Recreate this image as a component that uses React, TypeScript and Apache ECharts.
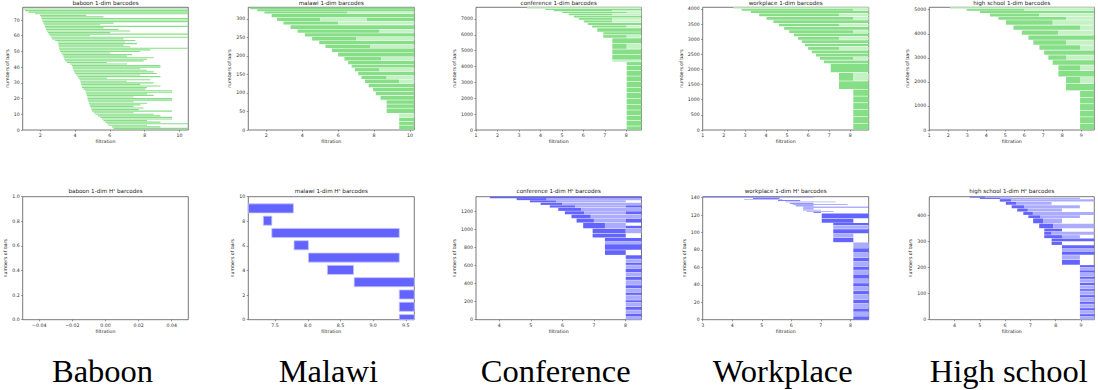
import React, { useEffect, useRef } from 'react';
import * as echarts from 'echarts';

// ---------------- data ----------------
// baboon 1-dim bars, index = bar number (bottom-up)
const baboonBirths = [6.41, 6.21, 6.12, 5.93, 5.83, 5.74, 5.64, 5.54, 5.45, 5.31, 5.16, 5.07, 4.99, 4.95, 4.91, 4.87, 4.84, 4.8, 4.78, 4.74, 4.72, 4.7, 4.68, 4.64, 4.62, 4.59, 4.49, 4.39, 4.38, 4.36, 4.34, 4.3, 4.26, 4.2, 4.15, 4.07, 4.01, 3.95, 3.92, 3.88, 3.86, 3.82, 3.72, 3.53, 3.44, 3.38, 3.36, 3.34, 3.28, 3.21, 3.15, 3.11, 3.09, 3.07, 3.05, 3.05, 3.0, 2.86, 2.69, 2.63, 2.57, 2.5, 2.44, 2.38, 2.34, 2.31, 2.27, 2.23, 2.19, 2.15, 2.11, 2.08, 2.04, 2.0, 1.71, 1.33, 1.14, 1.0];
const baboonDeaths = [7.94, 10.5, 8.9, 8.13, 10.5, 8.9, 8.13, 9.57, 9.57, 8.9, 8.51, 7.36, 9.57, 7.65, 7.94, 7.36, 7.75, 8.13, 7.36, 9.57, 9.57, 7.36, 8.51, 8.13, 9.57, 9.57, 8.03, 8.13, 8.9, 7.75, 8.51, 6.98, 8.32, 5.83, 8.9, 7.75, 8.7, 8.51, 8.13, 7.75, 8.9, 8.9, 6.98, 5.83, 7.94, 8.13, 8.51, 6.98, 7.27, 6.02, 7.75, 8.32, 10.5, 7.17, 6.79, 7.56, 6.89, 7.46, 6.79, 10.5, 4.87, 10.5, 6.02, 7.17, 6.5, 5.64, 10.5, 5.45, 6.21, 10.5, 10.5, 10.5, 5.64, 4.64, 10.5, 10.5, 10.5, 10.5];

// banded barcodes: [yFrom, yTo, birth, death, tone(1 dark / 0 light)]
const malawiBars = [
  [0, 13, 9.4, 10.24, 1], [13, 23, 9.4, 10.24, 1], [23, 34, 9.4, 10.24, 1], [34, 45, 9.4, 10.24, 0],
  [45, 59, 8.7, 10.24, 1], [59, 70, 8.7, 10.24, 1], [70, 81, 8.7, 10.24, 1], [81, 93, 8.36, 10.24, 1],
  [93, 104, 8.1, 10.24, 1], [104, 115, 7.95, 10.24, 1], [115, 126, 7.7, 10.24, 1],
  [126, 137, 7.5, 9.4, 1], [126, 137, 9.4, 10.24, 0],
  [137, 147, 7.3, 8.7, 1], [137, 147, 8.7, 10.24, 0],
  [147, 158, 7.12, 10.24, 1],
  [158, 168, 6.93, 8.3, 1], [158, 168, 8.3, 10.24, 0],
  [168, 177, 6.75, 10.24, 1], [177, 187, 6.56, 10.24, 1],
  [187, 198, 6.35, 8.4, 1], [187, 198, 8.4, 10.24, 0],
  [198, 210, 6.0, 10.24, 1], [210, 221, 5.65, 10.24, 1],
  [221, 231, 5.3, 7.8, 1], [221, 231, 7.8, 10.24, 0],
  [231, 241, 4.95, 10.24, 1],
  [241, 252, 4.55, 7.0, 1], [241, 252, 7.0, 10.24, 0],
  [252, 262, 4.15, 10.24, 1],
  [262, 272, 3.75, 8.3, 1], [262, 272, 8.3, 10.24, 0],
  [272, 284, 3.35, 10.24, 1],
  [284, 294, 2.95, 6.0, 1], [284, 294, 6.0, 10.24, 0],
  [294, 304, 2.6, 5.0, 1], [294, 304, 5.0, 7.6, 0], [294, 304, 7.6, 10.24, 1],
  [304, 314, 2.3, 10.24, 1],
  [314, 321, 1.9, 6.5, 1], [314, 321, 6.5, 10.24, 0],
  [321, 326, 1.5, 10.24, 1], [326, 331, 1.1, 10.24, 1],
];

const conferenceBars = [
  [0, 250, 8.02, 8.71, 1], [250, 590, 8.02, 8.71, 1], [590, 925, 8.02, 8.71, 1], [925, 1260, 8.02, 8.71, 1],
  [1260, 1620, 8.02, 8.71, 1], [1620, 1975, 8.02, 8.71, 1], [1975, 2355, 8.02, 8.71, 1], [2355, 2690, 8.02, 8.71, 1],
  [2690, 3050, 8.02, 8.71, 1], [3050, 3400, 8.02, 8.71, 1], [3400, 3740, 8.02, 8.71, 1], [3740, 4060, 8.02, 8.71, 1],
  [4060, 4300, 8.02, 8.71, 1],
  [4300, 4420, 7.35, 8.71, 0], [4420, 4760, 7.35, 8.71, 1], [4760, 5100, 7.35, 8.71, 1],
  [5100, 5450, 7.35, 8.02, 1], [5100, 5450, 8.02, 8.71, 0],
  [5450, 5800, 7.35, 8.71, 1],
  [5800, 6000, 6.93, 8.02, 1], [5800, 6000, 8.02, 8.71, 0],
  [6000, 6180, 6.93, 8.71, 1], [6180, 6440, 6.65, 8.71, 1],
  [6440, 6600, 6.41, 8.02, 1], [6440, 6600, 8.02, 8.71, 0],
  [6600, 6760, 6.21, 8.71, 1],
  [6760, 6930, 6.02, 7.35, 1], [6760, 6930, 7.35, 8.71, 0],
  [6930, 7080, 5.79, 7.35, 1], [6930, 7080, 7.35, 8.71, 0],
  [7080, 7230, 5.56, 8.71, 1],
  [7230, 7350, 5.32, 7.35, 1], [7230, 7350, 7.35, 8.71, 0],
  [7350, 7480, 5.01, 8.02, 1], [7350, 7480, 8.02, 8.71, 0],
  [7480, 7570, 4.62, 7.35, 1], [7480, 7570, 7.35, 8.71, 0],
  [7570, 7650, 4.23, 8.71, 1], [7650, 7736, 3.37, 8.71, 0],
];

const workplaceBars = [
  [0, 220, 8.14, 8.87, 1], [220, 450, 8.14, 8.87, 1], [450, 680, 8.14, 8.87, 1], [680, 900, 8.14, 8.87, 1],
  [900, 1120, 8.14, 8.87, 1], [1120, 1345, 8.14, 8.87, 1],
  [1345, 1620, 7.46, 8.87, 1],
  [1620, 1895, 7.46, 8.14, 1], [1620, 1895, 8.14, 8.87, 0],
  [1895, 2200, 7.07, 8.87, 1], [2200, 2310, 6.75, 8.87, 1],
  [2310, 2420, 6.56, 8.14, 1], [2310, 2420, 8.14, 8.87, 0],
  [2420, 2530, 6.37, 8.87, 1], [2530, 2640, 6.17, 8.87, 1],
  [2640, 2755, 6.0, 7.46, 1], [2640, 2755, 7.46, 8.87, 0],
  [2755, 2865, 5.85, 8.87, 1], [2865, 2975, 5.7, 8.87, 1],
  [2975, 3086, 5.52, 7.46, 1], [2975, 3086, 7.46, 8.87, 0],
  [3086, 3196, 5.32, 8.87, 1],
  [3196, 3306, 5.1, 8.14, 1], [3196, 3306, 8.14, 8.87, 0],
  [3306, 3416, 4.86, 8.87, 1],
  [3416, 3526, 4.62, 7.46, 1], [3416, 3526, 7.46, 8.87, 0],
  [3526, 3637, 4.35, 8.87, 1],
  [3637, 3747, 4.03, 8.14, 1], [3637, 3747, 8.14, 8.87, 0],
  [3747, 3857, 3.68, 7.46, 1], [3747, 3857, 7.46, 8.87, 0],
  [3857, 3945, 3.28, 8.87, 1],
  [3945, 4011, 2.85, 8.14, 1], [3945, 4011, 8.14, 8.87, 0],
  [4011, 4055, 2.45, 8.87, 0],
];

const highSchoolBars = [
  [0, 270, 8.94, 9.68, 1], [270, 545, 8.94, 9.68, 1], [545, 820, 8.94, 9.68, 1], [820, 1090, 8.94, 9.68, 1],
  [1090, 1360, 8.94, 9.68, 1], [1360, 1634, 8.94, 9.68, 1],
  [1634, 1925, 8.2, 9.68, 1],
  [1925, 2216, 8.2, 8.94, 1], [1925, 2216, 8.94, 9.68, 0],
  [2216, 2460, 7.8, 9.68, 1],
  [2460, 2700, 7.8, 8.94, 1], [2460, 2700, 8.94, 9.68, 0],
  [2700, 2908, 7.5, 9.68, 1],
  [2908, 3115, 7.27, 8.2, 1], [2908, 3115, 8.2, 9.68, 0],
  [3115, 3320, 7.05, 9.68, 1],
  [3320, 3530, 6.8, 8.94, 1], [3320, 3530, 8.94, 9.68, 0],
  [3530, 3740, 6.48, 8.2, 1], [3530, 3740, 8.2, 9.68, 0],
  [3740, 3945, 6.22, 9.68, 1],
  [3945, 4150, 5.87, 7.8, 1], [3945, 4150, 7.8, 9.68, 0],
  [4150, 4360, 5.43, 8.94, 1], [4150, 4360, 8.94, 9.68, 0],
  [4360, 4570, 5.04, 7.5, 1], [4360, 4570, 7.5, 9.68, 0],
  [4570, 4710, 4.64, 8.2, 1], [4570, 4710, 8.2, 9.68, 0],
  [4710, 4850, 4.2, 6.8, 1], [4710, 4850, 6.8, 9.68, 0],
  [4850, 4960, 3.67, 9.68, 1],
  [4960, 5040, 2.97, 6.0, 1], [4960, 5040, 6.0, 9.68, 0],
  [5040, 5100, 2.09, 9.68, 0],
];

// H* barcodes
const malawiHBirths = [9.4, 9.4, 9.4, 8.71, 8.3, 8.01, 7.79, 7.45, 7.32, 7.09];
const malawiHDeaths = [9.63, 9.63, 9.63, 9.63, 8.7, 9.4, 8.01, 9.4, 7.45, 7.78];

const conferenceHBars = [
  [0, 33, 8.01, 8.51, 0], [33, 70, 8.01, 8.51, 1], [70, 107, 8.01, 8.51, 0], [107, 144, 8.01, 8.51, 1],
  [144, 191, 8.01, 8.51, 0], [191, 217, 8.01, 8.51, 1], [217, 272, 8.01, 8.51, 0], [272, 302, 8.01, 8.51, 1],
  [302, 346, 8.01, 8.51, 0], [346, 383, 8.01, 8.51, 1], [383, 438, 8.01, 8.51, 0], [438, 475, 8.01, 8.51, 1],
  [475, 523, 8.01, 8.51, 0], [523, 567, 8.01, 8.51, 1], [567, 604, 8.01, 8.51, 0], [604, 633, 8.01, 8.51, 1],
  [633, 670, 8.01, 8.51, 0], [670, 714, 8.01, 8.51, 1],
  [714, 770, 7.35, 8.01, 1],
  [770, 835, 7.35, 8.51, 1], [835, 865, 7.35, 8.51, 0], [865, 905, 7.35, 8.51, 1],
  [905, 953, 6.96, 8.01, 1],
  [953, 1008, 6.96, 8.01, 1], [953, 1008, 8.01, 8.51, 0],
  [1008, 1071, 6.66, 7.35, 1], [1008, 1071, 7.35, 8.01, 0], [1008, 1040, 8.01, 8.51, 1],
  [1071, 1119, 6.45, 7.0, 1], [1071, 1119, 7.0, 8.01, 0], [1071, 1119, 8.01, 8.51, 1],
  [1119, 1163, 6.29, 6.9, 1], [1119, 1163, 6.9, 8.51, 0],
  [1163, 1200, 6.08, 6.7, 1], [1163, 1200, 6.7, 8.01, 0], [1163, 1200, 8.01, 8.51, 1],
  [1200, 1237, 5.87, 6.6, 1], [1200, 1237, 6.6, 8.51, 0],
  [1237, 1266, 5.6, 6.4, 1], [1237, 1266, 6.4, 8.01, 0], [1237, 1266, 8.01, 8.51, 1],
  [1266, 1295, 5.31, 6.0, 1], [1266, 1295, 6.0, 8.51, 0],
  [1295, 1321, 4.97, 5.8, 1], [1295, 1321, 5.8, 8.01, 0],
  [1321, 1343, 4.55, 5.5, 1], [1321, 1343, 5.5, 8.51, 0],
  [1343, 1358, 3.7, 8.51, 1],
];

const workplaceHBars = [
  [0, 4, 8.1, 8.62, 1], [4, 9, 8.1, 8.62, 0], [9, 13, 8.1, 8.62, 1], [13, 19, 8.1, 8.62, 0],
  [19, 23, 8.1, 8.62, 1], [23, 29, 8.1, 8.62, 0], [29, 33, 8.1, 8.62, 1], [33, 38, 8.1, 8.62, 0],
  [38, 42, 8.1, 8.62, 1], [42, 47, 8.1, 8.62, 0], [47, 52, 8.1, 8.62, 1], [52, 57, 8.1, 8.62, 0],
  [57, 61, 8.1, 8.62, 1], [61, 67, 8.1, 8.62, 0], [67, 71, 8.1, 8.62, 1], [71, 77, 8.1, 8.62, 0],
  [77, 82, 8.1, 8.62, 1], [82, 88.7, 8.1, 8.62, 0],
  [88.7, 94, 7.42, 8.1, 1], [94, 99, 7.42, 8.1, 0],
  [99, 104, 7.42, 8.62, 1], [104, 108, 7.42, 8.62, 0], [108, 111, 7.42, 8.62, 1],
  [111, 116, 7.03, 8.1, 1], [116, 122, 7.03, 8.62, 1],
  [122.5, 123.5, 6.75, 7.0, 1], [123.5, 124.5, 6.52, 7.43, 0], [125, 126, 6.4, 7.0, 0],
  [126.5, 127.5, 6.4, 6.75, 1], [128.5, 129.5, 6.4, 8.62, 1], [130, 131, 6.15, 6.75, 1],
  [131.5, 132.5, 6.05, 7.9, 0], [133, 134, 5.95, 6.75, 1], [134.5, 135.5, 5.8, 7.5, 0],
  [136, 137, 5.55, 6.3, 1], [137.5, 138.5, 4.4, 5.7, 0], [138.5, 139.5, 4.7, 5.6, 1],
  [139.5, 140.5, 3.0, 6.75, 0], [140.3, 141, 3.0, 5.6, 1],
];

const highSchoolHBars = [
  [0, 12, 8.96, 9.53, 0], [12, 22, 8.96, 9.53, 1], [22, 35, 8.96, 9.53, 0], [35, 45, 8.96, 9.53, 1],
  [45, 60, 8.96, 9.53, 0], [60, 70, 8.96, 9.53, 1], [70, 85, 8.96, 9.53, 0], [85, 95, 8.96, 9.53, 1],
  [95, 110, 8.96, 9.53, 0], [110, 118, 8.96, 9.53, 1], [118, 132, 8.96, 9.53, 0], [132, 142, 8.96, 9.53, 1],
  [142, 156, 8.96, 9.53, 0], [156, 166, 8.96, 9.53, 1], [166, 180, 8.96, 9.53, 0], [180, 190, 8.96, 9.53, 1],
  [190, 200, 8.96, 9.53, 0], [200, 210, 8.96, 9.53, 1],
  [210, 230, 8.25, 8.96, 1], [230, 248, 8.25, 8.96, 0],
  [248, 262, 8.25, 9.53, 1], [262, 272, 8.25, 9.53, 0], [272, 286, 8.25, 9.53, 1],
  [286, 300, 7.84, 8.25, 1], [300, 312, 7.84, 9.53, 1],
  [312, 325, 7.55, 8.25, 1], [312, 325, 8.25, 8.96, 0],
  [325, 338, 7.55, 7.84, 1], [325, 338, 7.84, 9.53, 0],
  [338, 350, 7.55, 8.25, 1],
  [350, 369, 7.35, 7.9, 1], [350, 369, 7.9, 9.53, 0],
  [369, 389, 7.11, 7.5, 1], [369, 389, 7.5, 8.25, 0],
  [389, 401, 6.92, 7.4, 1], [389, 401, 7.4, 8.96, 0],
  [401, 414, 6.72, 7.1, 1], [401, 414, 7.1, 9.53, 0],
  [414, 427, 6.48, 6.9, 1], [414, 427, 6.9, 8.25, 0],
  [427, 440, 6.26, 6.75, 1], [427, 440, 6.75, 8.96, 0],
  [440, 452, 6.03, 6.45, 1], [440, 452, 6.45, 7.84, 0],
  [452, 463, 5.79, 6.25, 1], [452, 463, 6.25, 9.53, 0],
  [463, 468, 5.0, 5.8, 1], [463, 468, 5.8, 8.96, 0],
  [468, 471.6, 4.6, 5.2, 1], [468, 471.6, 5.2, 6.2, 0],
];

// tick labels
const baboonXTicks = [2, 4, 6, 8, 10];
const baboonYTicks = [0, 10, 20, 30, 40, 50, 60, 70];
const malawiXTicks = [2, 4, 6, 8, 10];
const malawiYTicks = [0, 50, 100, 150, 200, 250, 300];
const conferenceXTicks = [1, 2, 3, 4, 5, 6, 7, 8];
const conferenceYTicks = [0, 1000, 2000, 3000, 4000, 5000, 6000, 7000];
const workplaceXTicks = [1, 2, 3, 4, 5, 6, 7, 8];
const workplaceYTicks = [0, 500, 1000, 1500, 2000, 2500, 3000, 3500, 4000];
const highSchoolXTicks = [1, 2, 3, 4, 5, 6, 7, 8, 9];
const highSchoolYTicks = [0, 1000, 2000, 3000, 4000, 5000];
const baboonHXTicks = [-0.04, -0.02, 0, 0.02, 0.04];
const baboonHYTicks = [0, 0.2, 0.4, 0.6, 0.8, 1.0];
const malawiHXTicks = [7.5, 8.0, 8.5, 9.0, 9.5];
const malawiHYTicks = [0, 2, 4, 6, 8, 10];
const conferenceHXTicks = [4, 5, 6, 7, 8];
const conferenceHYTicks = [0, 200, 400, 600, 800, 1000, 1200];
const workplaceHXTicks = [3, 4, 5, 6, 7, 8];
const workplaceHYTicks = [0, 20, 40, 60, 80, 100, 120, 140];
const highSchoolHXTicks = [4, 5, 6, 7, 8, 9];
const highSchoolHYTicks = [0, 100, 200, 300, 400];

const datasetNames = ['Baboon', 'Malawi', 'Conference', 'Workplace', 'High school'];

// ---------------- layout / style ----------------
const GREEN_DARK = '#86de86';
const GREEN_LIGHT = '#c4f2c4';
const BLUE_DARK = '#6363ff';
const BLUE_LIGHT = '#acacff';

const COLS = [
  { l: 22.7, w: 165.6 },
  { l: 248.3, w: 166 },
  { l: 476, w: 165.5 },
  { l: 702.7, w: 166 },
  { l: 929.3, w: 165 },
];
const ROWS = [
  { t: 7.3, h: 122.7, titleY: 3, nameGap: 9.4 },
  { t: 196.7, h: 123, titleY: 191, nameGap: 8.4 },
];

function indexBars(births: number[], deaths: number[], half: number) {
  return births.map((b, i) => [i - half, i + half, b, deaths[i], 1]);
}

const panels = [
  { title: 'baboon 1-dim barcodes', h: false, row: 0, col: 0, x: [1.0, 10.5], y: [0, 78.1], xt: baboonXTicks, yt: baboonYTicks, xd: 0, yd: 0, bars: indexBars(baboonBirths, baboonDeaths, 0.36), blue: false, inset: 0, yGap: 11.5 },
  { title: 'malawi 1-dim barcodes', h: false, row: 0, col: 1, x: [1.0, 10.24], y: [0, 331.5], xt: malawiXTicks, yt: malawiYTicks, xd: 0, yd: 0, bars: malawiBars, blue: false, inset: 0.3, yGap: 13.5 },
  { title: 'conference 1-dim barcodes', h: false, row: 0, col: 2, x: [1.0, 8.71], y: [0, 7736], xt: conferenceXTicks, yt: conferenceYTicks, xd: 0, yd: 0, bars: conferenceBars, blue: false, inset: 0.3, yGap: 17 },
  { title: 'workplace 1-dim barcodes', h: false, row: 0, col: 3, x: [1.0, 8.87], y: [0, 4056], xt: workplaceXTicks, yt: workplaceYTicks, xd: 0, yd: 0, bars: workplaceBars, blue: false, inset: 0.3, yGap: 17.5 },
  { title: 'high school 1-dim barcodes', h: false, row: 0, col: 4, x: [1.0, 9.69], y: [0, 5100], xt: highSchoolXTicks, yt: highSchoolYTicks, xd: 0, yd: 0, bars: highSchoolBars, blue: false, inset: 0.3, yGap: 16.5 },
  { title: 'baboon 1-dim H', h: true, row: 1, col: 0, x: [-0.05, 0.05], y: [0, 1], xt: baboonHXTicks, yt: baboonHYTicks, xd: 2, yd: 1, bars: [], blue: true, inset: 0, yGap: 13.5 },
  { title: 'malawi 1-dim H', h: true, row: 1, col: 1, x: [7.09, 9.63], y: [0, 10], xt: malawiHXTicks, yt: malawiHYTicks, xd: 1, yd: 0, bars: indexBars(malawiHBirths, malawiHDeaths, 0.37).map((b) => [b[0] + 0.05, b[1] + 0.05, b[2], b[3], 1]), blue: true, inset: 0, yGap: 11.5, outline: true },
  { title: 'conference 1-dim H', h: true, row: 1, col: 2, x: [3.26, 8.51], y: [0, 1359], xt: conferenceHXTicks, yt: conferenceHYTicks, xd: 0, yd: 0, bars: conferenceHBars, blue: true, inset: 0.2, yGap: 18.5 },
  { title: 'workplace 1-dim H', h: true, row: 1, col: 3, x: [3.0, 8.62], y: [0, 141], xt: workplaceHXTicks, yt: workplaceHYTicks, xd: 0, yd: 0, bars: workplaceHBars, blue: true, inset: 0.15, yGap: 15 },
  { title: 'high school 1-dim H', h: true, row: 1, col: 4, x: [3.0, 9.53], y: [0, 471.6], xt: highSchoolHXTicks, yt: highSchoolHYTicks, xd: 0, yd: 0, bars: highSchoolHBars, blue: true, inset: 0.2, yGap: 14.5 },
];

const FONT = 'DejaVu Sans';
const fmt = (d: number) => (v: number) => {
  const s = Math.abs(v) < 1e-9 ? (0).toFixed(d) : v.toFixed(d);
  return s.replace('-', '\u2212');
};

function buildOption() {
  const grid: any[] = [];
  const xAxis: any[] = [];
  const yAxis: any[] = [];
  const series: any[] = [];
  const graphic: any[] = [];

  panels.forEach((p: any, i) => {
    const c = COLS[p.col];
    const r = ROWS[p.row];
    grid.push({ left: c.l, top: r.t, width: c.w, height: r.h, show: true, borderColor: '#555', borderWidth: 0.8, backgroundColor: 'transparent', containLabel: false });
    xAxis.push({
      type: 'value', gridIndex: i, min: p.x[0], max: p.x[1],
      name: 'filtration', nameLocation: 'middle', nameGap: r.nameGap,
      nameTextStyle: { fontSize: 4.7, color: '#222', fontFamily: FONT },
      axisLine: { show: false, onZero: false }, splitLine: { show: false },
      axisTick: { show: true, length: 1.6, lineStyle: { color: '#555', width: 0.6 }, customValues: p.xt },
      axisLabel: { fontSize: 4.7, color: '#333', fontFamily: FONT, margin: 3.2, customValues: p.xt, formatter: fmt(p.xd) },
    });
    yAxis.push({
      type: 'value', gridIndex: i, min: p.y[0], max: p.y[1],
      name: 'numbers of bars', nameLocation: 'middle', nameGap: p.yGap, nameRotate: 90,
      nameTextStyle: { fontSize: 4.7, color: '#222', fontFamily: FONT },
      axisLine: { show: false, onZero: false }, splitLine: { show: false },
      axisTick: { show: true, length: 1.6, lineStyle: { color: '#555', width: 0.6 }, customValues: p.yt },
      axisLabel: { fontSize: 4.7, color: '#333', fontFamily: FONT, margin: 3, customValues: p.yt, formatter: fmt(p.yd) },
    });
    const dark = p.blue ? BLUE_DARK : GREEN_DARK;
    const light = p.blue ? BLUE_LIGHT : GREEN_LIGHT;
    const inset = p.inset;
    const outline = !!p.outline;
    series.push({
      type: 'custom', xAxisIndex: i, yAxisIndex: i, data: p.bars, silent: true,
      encode: { x: [2, 3], y: [0, 1] },
      renderItem: (params: any, api: any) => {
        const y0 = api.value(0), y1 = api.value(1), x0 = api.value(2), x1 = api.value(3), tone = api.value(4);
        const a = api.coord([x0, y1]);
        const b = api.coord([x1, y0]);
        let top = a[1], bot = b[1];
        if (bot - top > 2 && inset > 0) { top += inset; bot -= inset; }
        const cs = params.coordSys;
        const shape = echarts.graphic.clipRectByRect(
          { x: a[0], y: top, width: b[0] - a[0], height: bot - top },
          { x: cs.x, y: cs.y, width: cs.width, height: cs.height }
        );
        if (!shape) return null;
        return {
          type: 'rect', shape,
          style: outline ? { fill: dark, stroke: '#c4c4ff', lineWidth: 0.8 } : { fill: tone ? dark : light },
        };
      },
    });
    const cx = c.l + c.w / 2;
    graphic.push({
      type: 'text', x: cx, y: r.titleY, silent: true,
      style: p.h
        ? {
            text: `{t|${p.title}}{s|*}{t| barcodes}`,
            align: 'center', verticalAlign: 'middle',
            rich: {
              t: { fontSize: 5.6, fontFamily: FONT, fill: '#222' },
              s: { fontSize: 4, fontFamily: FONT, fill: '#222', verticalAlign: 'top' },
            },
          }
        : { text: p.title, fontSize: 5.6, fontFamily: FONT, fill: '#222', align: 'center', verticalAlign: 'middle' },
    });
  });

  datasetNames.forEach((name, k) => {
    const c = COLS[k];
    graphic.push({
      type: 'text', x: c.l + c.w / 2 - 3, y: 370.5, silent: true,
      style: {
        text: name,
        font: '32.5px "Liberation Serif", "DejaVu Serif", serif',
        fill: '#000', align: 'center', verticalAlign: 'middle',
      },
    });
  });

  return { animation: false, backgroundColor: '#fff', grid, xAxis, yAxis, series, graphic };
}

export default function App() {
  const ref = useRef<HTMLDivElement>(null);
  useEffect(() => {
    if (!ref.current) return;
    const chart = echarts.init(ref.current, undefined, { renderer: 'svg' });
    chart.setOption(buildOption() as any);
    return () => chart.dispose();
  }, []);
  return <div ref={ref} style={{ position: 'absolute', left: 0, top: 0, width: 1098, height: 390 }} />;
}
